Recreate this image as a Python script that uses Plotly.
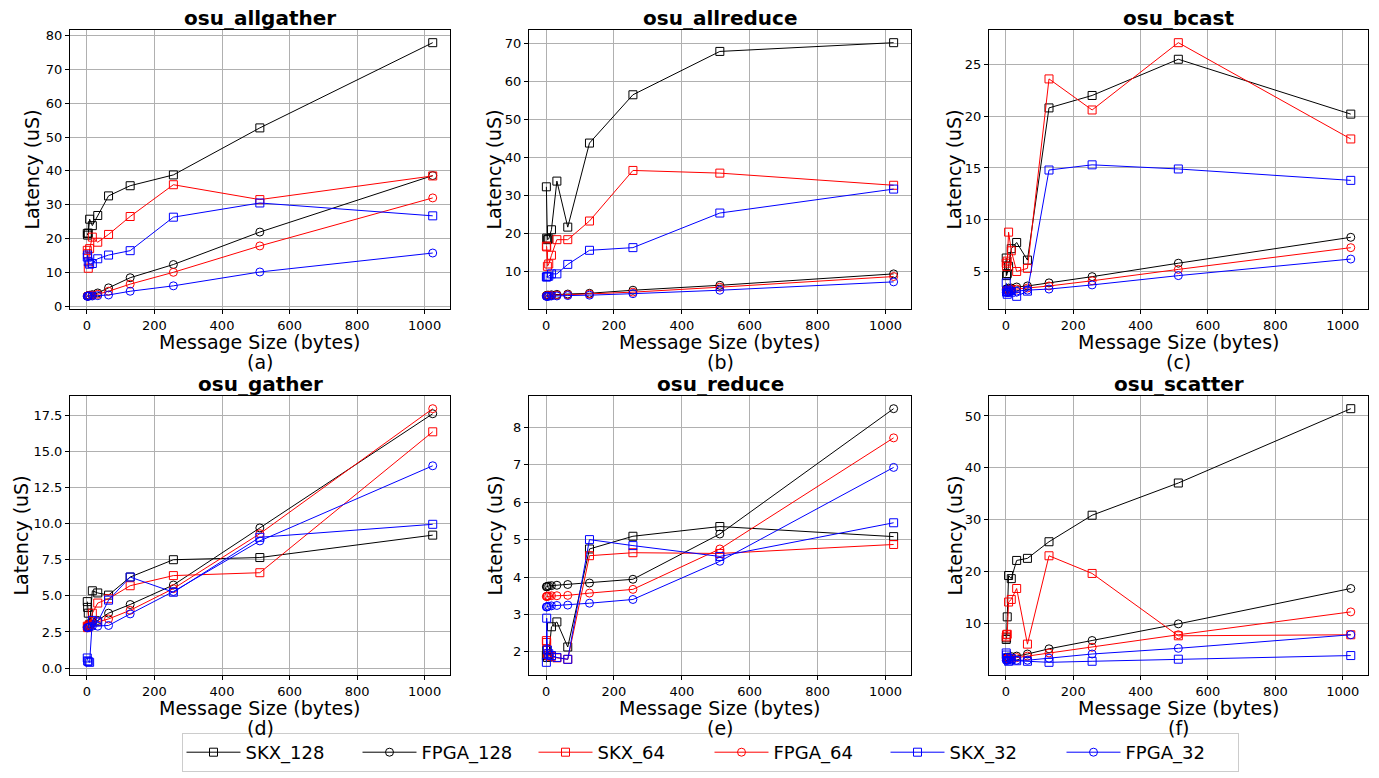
import plotly.graph_objects as go

msg_sizes = [1, 2, 4, 8, 16, 32, 64, 128, 256, 512, 1024]
series_names = ["SKX_128", "FPGA_128", "SKX_64", "FPGA_64", "SKX_32", "FPGA_32"]
panel_titles = ["osu_allgather", "osu_allreduce", "osu_bcast", "osu_gather", "osu_reduce", "osu_scatter"]
panel_letters = ["(a)", "(b)", "(c)", "(d)", "(e)", "(f)"]
x_ticks = [0, 200, 400, 600, 800, 1000]

allgather_skx128 = [21.5, 21.0, 21.6, 25.7, 23.8, 26.8, 32.6, 35.6, 38.8, 52.7, 77.9]
allgather_fpga128 = [3.0, 3.0, 3.1, 3.2, 3.4, 3.9, 5.4, 8.4, 12.3, 21.9, 38.6]
allgather_skx64 = [16.5, 15.5, 11.2, 17.0, 20.4, 18.9, 21.2, 26.5, 35.9, 31.5, 38.5]
allgather_fpga64 = [3.0, 3.0, 3.0, 3.1, 3.2, 3.5, 4.4, 6.5, 10.0, 17.8, 32.0]
allgather_skx32 = [14.5, 15.1, 13.1, 12.4, 12.6, 14.0, 15.1, 16.4, 26.3, 30.5, 26.7]
allgather_fpga32 = [2.9, 2.9, 3.0, 3.0, 3.0, 3.1, 3.3, 4.4, 6.0, 10.1, 15.7]

allreduce_skx128 = [32.3, 18.8, 18.4, 18.6, 21.0, 33.8, 21.7, 43.8, 56.5, 67.9, 70.2]
allreduce_fpga128 = [3.7, 3.7, 3.8, 3.8, 3.9, 4.0, 4.1, 4.3, 5.1, 6.4, 9.4]
allreduce_skx64 = [16.7, 16.5, 11.4, 12.0, 14.3, 18.4, 18.4, 23.3, 36.6, 35.9, 32.7]
allreduce_fpga64 = [3.6, 3.6, 3.6, 3.7, 3.7, 3.8, 3.9, 4.1, 4.6, 5.9, 8.7]
allreduce_skx32 = [8.6, 8.6, 8.7, 8.8, 9.4, 9.4, 11.9, 15.6, 16.3, 25.4, 31.7]
allreduce_fpga32 = [3.5, 3.5, 3.5, 3.5, 3.6, 3.6, 3.7, 3.8, 4.2, 5.1, 7.3]

bcast_skx128 = [6.3, 4.6, 4.8, 5.5, 7.2, 7.8, 6.1, 20.8, 22.0, 25.5, 20.2]
bcast_fpga128 = [3.3, 3.3, 3.3, 3.4, 3.4, 3.5, 3.6, 3.9, 4.5, 5.8, 8.3]
bcast_skx64 = [5.8, 5.5, 6.0, 8.8, 7.0, 5.0, 5.3, 23.6, 20.6, 27.1, 17.8]
bcast_fpga64 = [3.2, 3.2, 3.2, 3.2, 3.3, 3.3, 3.4, 3.6, 4.1, 5.2, 7.3]
bcast_skx32 = [3.9, 3.0, 2.8, 3.2, 3.0, 2.6, 3.1, 14.8, 15.3, 14.9, 13.8]
bcast_fpga32 = [3.0, 3.0, 3.0, 3.0, 3.1, 3.1, 3.2, 3.3, 3.7, 4.6, 6.2]

gather_skx128 = [4.6, 4.2, 3.8, 3.0, 5.35, 5.2, 5.05, 6.3, 7.5, 7.65, 9.2]
gather_fpga128 = [2.9, 2.9, 3.0, 3.1, 3.2, 3.3, 3.8, 4.4, 5.75, 9.7, 17.6]
gather_skx64 = [2.9, 2.8, 2.9, 3.0, 3.8, 4.5, 4.8, 5.7, 6.4, 6.6, 16.35]
gather_fpga64 = [2.8, 2.8, 2.9, 3.0, 3.1, 3.2, 3.4, 4.0, 5.5, 9.3, 17.95]
gather_skx32 = [0.7, 0.5, 0.45, 0.4, 3.3, 3.2, 4.7, 6.3, 5.25, 9.05, 9.95]
gather_fpga32 = [2.8, 2.8, 2.8, 2.85, 2.9, 2.9, 2.95, 3.75, 5.3, 8.8, 14.0]

reduce_skx128 = [1.9, 2.05, 1.85, 1.9, 2.67, 2.8, 2.13, 4.75, 5.09, 5.35, 5.08]
reduce_fpga128 = [3.74, 3.74, 3.75, 3.76, 3.77, 3.78, 3.8, 3.84, 3.94, 5.15, 8.5]
reduce_skx64 = [2.3, 2.25, 1.95, 1.9, 1.88, 1.84, 1.8, 4.57, 4.65, 4.63, 4.87]
reduce_fpga64 = [3.48, 3.48, 3.49, 3.49, 3.5, 3.5, 3.51, 3.57, 3.67, 4.75, 7.72]
reduce_skx32 = [1.72, 2.9, 2.05, 1.95, 1.9, 1.85, 1.8, 5.0, 4.84, 4.55, 5.45]
reduce_fpga32 = [3.2, 3.2, 3.21, 3.22, 3.23, 3.24, 3.25, 3.3, 3.4, 4.42, 6.93]

scatter_skx128 = [7.0, 7.3, 11.35, 19.3, 18.7, 22.2, 22.6, 25.8, 30.9, 37.1, 51.4]
scatter_fpga128 = [3.5, 3.5, 3.6, 3.6, 3.7, 3.8, 4.2, 5.2, 6.8, 10.0, 16.8]
scatter_skx64 = [7.5, 7.9, 8.0, 14.2, 14.7, 16.8, 6.1, 23.1, 19.7, 7.7, 7.9]
scatter_fpga64 = [3.3, 3.3, 3.3, 3.4, 3.4, 3.5, 3.8, 4.4, 5.5, 7.9, 12.3]
scatter_skx32 = [4.4, 4.0, 3.5, 2.8, 3.3, 2.9, 2.8, 2.6, 2.8, 3.2, 3.9]
scatter_fpga32 = [3.0, 3.0, 3.0, 3.0, 3.0, 3.0, 3.0, 3.4, 4.2, 5.3, 7.9]

panels = [
    [allgather_skx128, allgather_fpga128, allgather_skx64, allgather_fpga64, allgather_skx32, allgather_fpga32],
    [allreduce_skx128, allreduce_fpga128, allreduce_skx64, allreduce_fpga64, allreduce_skx32, allreduce_fpga32],
    [bcast_skx128, bcast_fpga128, bcast_skx64, bcast_fpga64, bcast_skx32, bcast_fpga32],
    [gather_skx128, gather_fpga128, gather_skx64, gather_fpga64, gather_skx32, gather_fpga32],
    [reduce_skx128, reduce_fpga128, reduce_skx64, reduce_fpga64, reduce_skx32, reduce_fpga32],
    [scatter_skx128, scatter_fpga128, scatter_skx64, scatter_fpga64, scatter_skx32, scatter_fpga32],
]
y_tick_sets = [
    ([0, 10, 20, 30, 40, 50, 60, 70, 80], None),
    ([0, 10, 20, 30, 40, 50, 60, 70], None),
    ([5, 10, 15, 20, 25], None),
    ([0, 2.5, 5, 7.5, 10, 12.5, 15, 17.5], ["0.0", "2.5", "5.0", "7.5", "10.0", "12.5", "15.0", "17.5"]),
    ([2, 3, 4, 5, 6, 7, 8], None),
    ([0, 10, 20, 30, 40, 50], None),
]

colors = ["#000000", "#000000", "#ff0000", "#ff0000", "#0000ff", "#0000ff"]
symbols = ["square-open", "circle-open", "square-open", "circle-open", "square-open", "circle-open"]

W, H = 1379, 778
col_px = [(70, 450), (529, 911), (989, 1368)]
row_px = [(30, 309), (396, 675)]
ylab_px = [32, 494, 954, 20, 494, 954]

FONT = "DejaVu Sans"
fig = go.Figure()
annotations = []
for i in range(6):
    r, c = divmod(i, 3)
    ax = "" if i == 0 else str(i + 1)
    xd = [col_px[c][0] / W, col_px[c][1] / W]
    yd = [1 - row_px[r][1] / H, 1 - row_px[r][0] / H]
    allv = [v for s in panels[i] for v in s]
    ymin, ymax = min(allv), max(allv)
    m = (ymax - ymin) * 0.05
    xm = (msg_sizes[-1] - msg_sizes[0]) * 0.05
    for j, s in enumerate(panels[i]):
        fig.add_trace(go.Scatter(
            x=msg_sizes, y=s, mode="lines+markers", name=series_names[j],
            line=dict(color=colors[j], width=1),
            marker=dict(symbol=symbols[j], size=8, color=colors[j], line=dict(width=1, color=colors[j])),
            xaxis="x" + ax, yaxis="y" + ax, showlegend=(i == 0), legendgroup=series_names[j],
        ))
    tv, tt = y_tick_sets[i]
    axis_common = dict(showgrid=True, gridcolor="#b0b0b0", gridwidth=0.8, showline=True, linecolor="#000000",
                       linewidth=1, mirror=True, ticks="outside", ticklen=4, tickcolor="#000000",
                       tickfont=dict(family=FONT, size=13, color="#000000"), zeroline=False, automargin=False)
    fig.update_layout(**{
        "xaxis" + ax: dict(domain=xd, anchor="y" + ax, range=[msg_sizes[0] - xm, msg_sizes[-1] + xm],
                           tickvals=x_ticks, **axis_common),
        "yaxis" + ax: dict(domain=yd, anchor="x" + ax, range=[ymin - m, ymax + m],
                           tickvals=tv, ticktext=tt, **axis_common),
    })
    xc = (xd[0] + xd[1]) / 2
    annotations.append(dict(text="<b>" + panel_titles[i] + "</b>", x=xc, y=yd[1] + 12 / H, xref="paper", yref="paper",
                            showarrow=False, xanchor="center", yanchor="middle",
                            font=dict(family=FONT, size=20, color="#000000")))
    annotations.append(dict(text="Message Size (bytes)", x=xc, y=1 - (row_px[r][1] + 33) / H, xref="paper", yref="paper",
                            showarrow=False, xanchor="center", yanchor="middle",
                            font=dict(family=FONT, size=19, color="#000000")))
    annotations.append(dict(text=panel_letters[i], x=xc, y=1 - (row_px[r][1] + 53) / H, xref="paper", yref="paper",
                            showarrow=False, xanchor="center", yanchor="middle",
                            font=dict(family=FONT, size=19, color="#000000")))
    annotations.append(dict(text="Latency (uS)", x=ylab_px[i] / W, y=(yd[0] + yd[1]) / 2, xref="paper", yref="paper",
                            showarrow=False, textangle=-90, xanchor="center", yanchor="middle",
                            font=dict(family=FONT, size=19, color="#000000")))

fig.update_layout(
    width=W, height=H, margin=dict(l=0, r=0, t=0, b=0),
    paper_bgcolor="white", plot_bgcolor="white",
    annotations=annotations,
    legend=dict(orientation="h", x=710 / W, xanchor="center", y=1 - 733 / H, yanchor="top",
                font=dict(family=FONT, size=18, color="#000000"), bgcolor="white",
                bordercolor="#cccccc", borderwidth=1, entrywidth=107, entrywidthmode="pixels",
                itemwidth=54),
    showlegend=True,
)
fig.write_html("out.html", config={"displayModeBar": False},
               post_script="document.body.style.margin='0px';")
